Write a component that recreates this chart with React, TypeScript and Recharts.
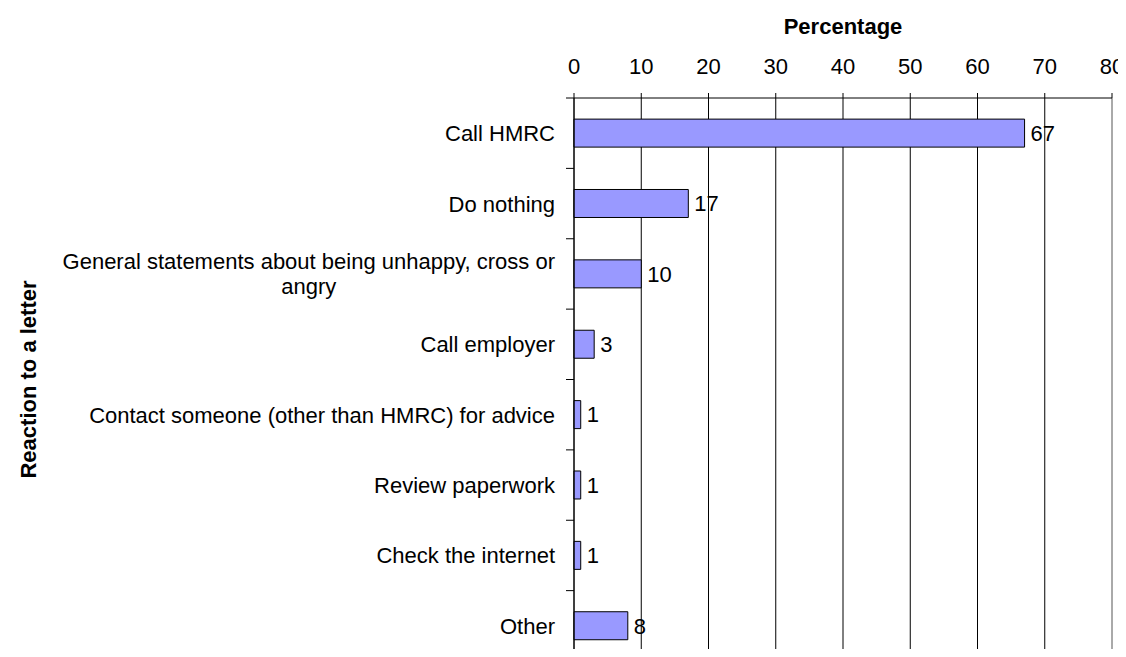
import React from 'react';
import { BarChart, Bar, XAxis, YAxis, CartesianGrid, LabelList, ReferenceLine } from 'recharts';

const categories = [
  'Call HMRC',
  'Do nothing',
  'General statements about being unhappy, cross or\nangry',
  'Call employer',
  'Contact someone (other than HMRC) for advice',
  'Review paperwork',
  'Check the internet',
  'Other',
];
const values = [67, 17, 10, 3, 1, 1, 1, 8];
const xTicks = [0, 10, 20, 30, 40, 50, 60, 70, 80];

const data = categories.map((c, i) => ({ name: c, value: values[i] }));

const W = 1126;
const H = 680;
const M = { top: 8, right: 14, bottom: 19, left: 14 };
const X_AXIS_H = 90;
const Y_AXIS_W = 560;
const PLOT_LEFT = M.left + Y_AXIS_W;
const PLOT_TOP = M.top + X_AXIS_H;
const BAND = (H - PLOT_TOP - M.bottom) / categories.length;
const FONT = '"Liberation Sans", Arial, Helvetica, sans-serif';
const FS = 22;

let ctx: CanvasRenderingContext2D | null = null;
function measure(t: string): number {
  if (!ctx) ctx = document.createElement('canvas').getContext('2d');
  if (!ctx) return t.length * 10;
  ctx.font = `${FS}px "Liberation Sans", Arial`;
  return ctx.measureText(t).width;
}

const YTick = (props: any) => {
  const { y, payload } = props;
  const lines = String(payload.value).split('\n');
  const right = PLOT_LEFT - 19;
  const lineH = 25;
  const w = Math.max(...lines.map(measure));
  const cx = right - w / 2;
  const y0 = y - ((lines.length - 1) * lineH) / 2;
  return (
    <g>
      <line x1={PLOT_LEFT - 8} x2={PLOT_LEFT} y1={y - BAND / 2} y2={y - BAND / 2} stroke="#000" />
      <text fontFamily={FONT} fontSize={FS} fill="#000" textAnchor="middle" dominantBaseline="central">
        {lines.map((l, i) => (
          <tspan key={i} x={cx} y={y0 + i * lineH}>
            {l}
          </tspan>
        ))}
      </text>
    </g>
  );
};

const XTick = (props: any) => {
  const { x, payload } = props;
  return (
    <text x={x} y={66} fontFamily={FONT} fontSize={FS} fill="#000" textAnchor="middle" dominantBaseline="central">
      {payload.value}
    </text>
  );
};

const XTitle = (props: any) => {
  const vb = props.viewBox || {};
  const cx = (vb.x ?? PLOT_LEFT) + (vb.width ?? 538) / 2;
  return (
    <text x={cx} y={26} fontFamily={FONT} fontSize={FS} fontWeight="bold" fill="#000" textAnchor="middle" dominantBaseline="central">
      Percentage
    </text>
  );
};

const YTitle = () => {
  const cy = PLOT_TOP + (BAND * categories.length) / 2;
  return (
    <text
      x={28}
      y={cy}
      transform={`rotate(-90 28 ${cy})`}
      fontFamily={FONT}
      fontSize={FS}
      fontWeight="bold"
      fill="#000"
      textAnchor="middle"
      dominantBaseline="central"
    >
      Reaction to a letter
    </text>
  );
};

export default function App() {
  return (
    <div style={{ margin: -8, width: W, height: 657, overflow: 'hidden', background: '#fff' }}>
      <BarChart width={W} height={H} data={data} layout="vertical" margin={M} barCategoryGap="30%">
        <CartesianGrid horizontal={false} stroke="#000" />
        <XAxis
          type="number"
          orientation="top"
          domain={[0, 80]}
          ticks={xTicks}
          interval={0}
          height={X_AXIS_H}
          axisLine={{ stroke: '#000' }}
          tickLine={{ stroke: '#000' }}
          tickSize={5}
          tick={<XTick />}
          label={<XTitle />}
        />
        <YAxis
          type="category"
          dataKey="name"
          width={Y_AXIS_W}
          interval={0}
          axisLine={{ stroke: '#000' }}
          tickLine={false}
          tick={<YTick />}
          label={<YTitle />}
        />
        <ReferenceLine x={80} stroke="#d4d4d4" />
        <Bar dataKey="value" fill="#9999FF" stroke="#000" strokeWidth={1} isAnimationActive={false}>
          <LabelList dataKey="value" position="right" offset={6} fill="#000" fontSize={FS} fontFamily={FONT} />
        </Bar>
      </BarChart>
    </div>
  );
}
